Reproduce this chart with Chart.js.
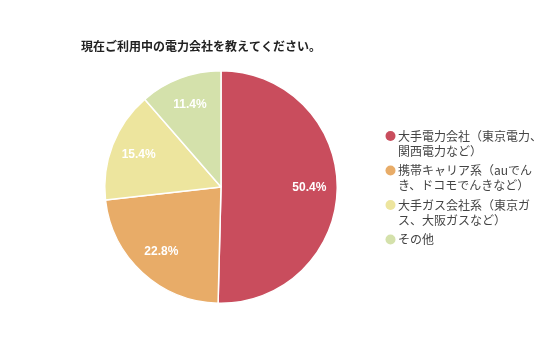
<!DOCTYPE html>
<html><head><meta charset="utf-8">
<script src="https://cdn.jsdelivr.net/npm/chart.js@4"></script>
<style>html,body{margin:0;padding:0;background:#fff}#w{width:536px;height:357px}</style>
</head><body><div id="w"><canvas id="c" width="536" height="357"></canvas></div>
<script>
const title = "現在ご利用中の電力会社を教えてください。";
const categories = [
  ["大手電力会社（東京電力、", "関西電力など）"],
  ["携帯キャリア系（auでん", "き、ドコモでんきなど）"],
  ["大手ガス会社系（東京ガ", "ス、大阪ガスなど）"],
  ["その他"]
];
const values = [50.4, 22.8, 15.4, 11.4];
const colors = ["#C94D5D", "#E8AC68", "#EDE59E", "#D4E1AB"];

const FONT = '"Noto Sans CJK JP", "Noto Sans", sans-serif';

const extras = {
  id: 'extras',
  afterDraw(chart) {
    const ctx = chart.ctx;
    ctx.save();
    // title
    ctx.fillStyle = '#222';
    ctx.font = 'bold 12px ' + FONT;
    ctx.textBaseline = 'middle';
    ctx.textAlign = 'left';
    ctx.fillText(title, 81, 46);
    // value labels
    const meta = chart.getDatasetMeta(0);
    ctx.font = 'bold 12px "Liberation Sans", Arial, sans-serif';
    ctx.fillStyle = '#fff';
    ctx.textAlign = 'center';
    meta.data.forEach((arc, i) => {
      const p = arc.getProps(['x','y','startAngle','endAngle','outerRadius']);
      const mid = (p.startAngle + p.endAngle) / 2;
      const r = p.outerRadius * 0.76;
      ctx.fillText(values[i].toFixed(1) + '%', p.x + Math.cos(mid) * r, p.y + Math.sin(mid) * r);
    });
    // legend
    ctx.font = '12px ' + FONT;
    ctx.textAlign = 'left';
    let y = 136;
    categories.forEach((lines, i) => {
      ctx.beginPath();
      ctx.fillStyle = colors[i];
      ctx.arc(390.5, y, 5, 0, Math.PI * 2);
      ctx.fill();
      ctx.fillStyle = '#444';
      lines.forEach((t, j) => {
        ctx.fillText(t, 398, y + j * 15);
      });
      y += (lines.length - 1) * 15 + 19.5;
    });
    ctx.restore();
  }
};

new Chart(document.getElementById('c'), {
  type: 'pie',
  data: {
    labels: categories.map(l => l.join('')),
    datasets: [{
      data: values,
      backgroundColor: colors,
      borderColor: '#fff',
      borderWidth: 1.5
    }]
  },
  options: {
    responsive: false,
    animation: false,
    layout: { padding: { left: 104, right: 198, top: 70, bottom: 53 } },
    plugins: { legend: { display: false }, tooltip: { enabled: false } }
  },
  plugins: [extras]
});
</script></body></html>
